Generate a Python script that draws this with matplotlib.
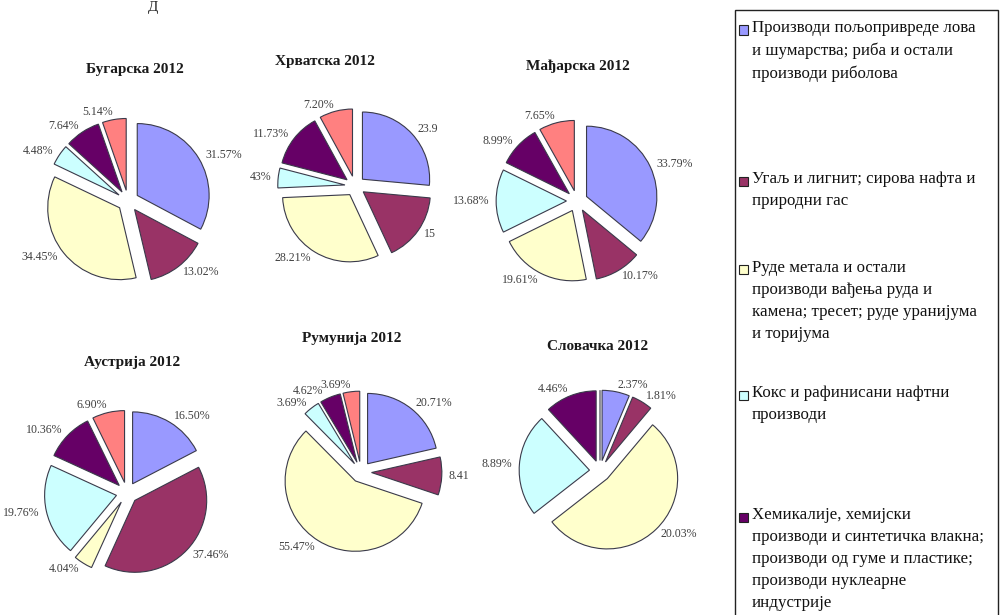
import matplotlib.pyplot as plt
from matplotlib.patches import Rectangle

plt.rcParams['font.family'] = ['Liberation Serif', 'DejaVu Serif']

W, H = 1000, 615

countries = ['Бугарска 2012', 'Хрватска 2012', 'Мађарска 2012',
             'Аустрија 2012', 'Румунија 2012', 'Словачка 2012']

# shares per category, in the order of the legend
bg = [31.57, 13.02, 34.45, 4.48, 7.64, 5.14]
hr = [23.9, 15.0, 28.21, 4.3, 11.73, 7.20]
hu = [33.79, 10.17, 19.61, 13.68, 8.99, 7.65]
at = [16.50, 37.46, 4.04, 19.76, 10.36, 6.90]
ro = [20.71, 8.41, 55.47, 3.69, 4.62, 3.69]
sk = [2.37, 1.81, 20.03, 8.89, 4.46, 0.0]

# label texts as printed on the chart
bg_lab = ['31.57%', '13.02%', '34.45%', '4.48%', '7.64%', '5.14%']
hr_lab = ['23.9', '15', '28.21%', '43%', '11.73%', '7.20%']
hu_lab = ['33.79%', '10.17%', '19.61%', '13.68%', '8.99%', '7.65%']
at_lab = ['16.50%', '37.46%', '4.04%', '19.76%', '10.36%', '6.90%']
ro_lab = ['20.71%', '8.41', '55.47%', '3.69%', '4.62%', '3.69%']
sk_lab = ['2.37%', '1.81%', '20.03%', '8.89%', '4.46%', '']

categories = [
    'Производи пољопривреде лова\nи шумарства; риба и остали\nпроизводи риболова',
    'Угаљ и лигнит; сирова нафта и\nприродни гас',
    'Руде метала и остали\nпроизводи вађења руда и\nкамена; тресет; руде уранијума\nи торијума',
    'Кокс и рафинисани нафтни\nпроизводи',
    'Хемикалије, хемијски\nпроизводи и синтетичка влакна;\nпроизводи од гуме и пластике;\nпроизводи нуклеарне\nиндустрије',
]

colors = ['#9999FF', '#993366', '#FFFFCC', '#CCFFFF', '#660066', '#FF8080']

data = [bg, hr, hu, at, ro, sk]
labels = [bg_lab, hr_lab, hu_lab, at_lab, ro_lab, sk_lab]

# pie centres and title positions in pixels
centres = [(128, 201), (355, 186), (577, 201), (127, 493), (361, 472), (600, 471)]
titles = [(135, 70), (325, 62), (578, 66), (132, 362), (352, 338), (598, 346)]
sizes = [230, 215, 225, 230, 225, 225]

fig = plt.figure(figsize=(W / 100, H / 100), dpi=100)

lim = 1.6
pies = []
for vals, labs, (cx, cy), (tx, ty), name, size in zip(data, labels, centres, titles, countries, sizes):
    ax = fig.add_axes([(cx - size / 2) / W, 1 - (cy + size / 2) / H, size / W, size / H])
    wedges, texts = ax.pie(vals, labels=labs, colors=colors, startangle=90, counterclock=False,
                           explode=[0.15] * len(vals), radius=1, labeldistance=1.1,
                           wedgeprops=dict(edgecolor='#3a3a4a', linewidth=0.8),
                           textprops=dict(fontsize=8.6, color='#404040'))
    pies.append(texts)
    ax.set_xlim(-lim, lim)
    ax.set_ylim(-lim, lim)
    ax.set_aspect('equal')
    ax.axis('off')
    fig.text(tx / W, 1 - ty / H, name, ha='center', va='center',
             fontsize=11, fontweight='bold', color='#1a1a1a')

# the two small Romanian labels sit side by side
x, y = pies[4][4].get_position()
pies[4][4].set_position((x - 0.06, y))

fig.text(0.153, 1 - 7 / H, 'Д', ha='center', va='center', fontsize=11, color='#222222')

# legend box
fig.patches.append(Rectangle((735 / W, -0.05), 263 / W, 1.05 - 10 / H,
                             transform=fig.transFigure, fill=False,
                             edgecolor='#222222', linewidth=1.0))
entry_y = [30, 181, 270, 395, 517]
for label, col, y in zip(categories, colors, entry_y):
    fig.patches.append(Rectangle((739 / W, 1 - (y + 4.5) / H), 9 / W, 9 / H,
                                 transform=fig.transFigure, facecolor=col,
                                 edgecolor='#222222', linewidth=0.8))
    fig.text(752 / W, 1 - (y - 10) / H, label, ha='left', va='top',
             fontsize=12.2, linespacing=1.5, color='#111111')

fig.savefig('out.png', dpi=100, facecolor='white')
